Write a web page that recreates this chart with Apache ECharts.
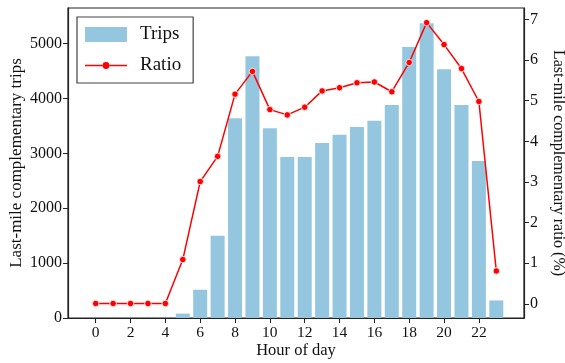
<!DOCTYPE html>
<html><head><meta charset="utf-8">
<script src="https://cdn.jsdelivr.net/npm/echarts@6/dist/echarts.min.js"></script>
<style>html,body{margin:0;padding:0;background:#fff}#c{width:565px;height:363px}</style>
</head><body><div id="c"></div>
<script>
var hours = [0,1,2,3,4,5,6,7,8,9,10,11,12,13,14,15,16,17,18,19,20,21,22,23];
var trips = [0,0,0,0,0,80,515,1500,3640,4770,3460,2935,2935,3190,3340,3480,3595,3880,4940,5370,4535,3880,2860,320];
var ratio = [0.01,0.01,0.01,0.01,0.01,1.09,3.01,3.63,5.16,5.72,4.78,4.65,4.84,5.24,5.32,5.44,5.46,5.22,5.94,6.92,6.38,5.79,4.98,0.81];
var xTicks = [0,2,4,6,8,10,12,14,16,18,20,22];
var leftTicks = [0,1000,2000,3000,4000,5000];
var rightTicks = [0,1,2,3,4,5,6,7];

var font = 'Liberation Serif';
var chart = echarts.init(document.getElementById('c'));
var axisCol = '#222';
var plain = function (v) { return String(v); };
var lineMarkerIcon = 'path://M0,6.75L17.5,6.75L17.5,8.25L0,8.25Z' +
  'M24.5,6.75L42,6.75L42,8.25L24.5,8.25Z' +
  'M17.6,7.5A3.4,3.4 0 1 1 24.4,7.5A3.4,3.4 0 1 1 17.6,7.5Z' +
  'M0,0L0.01,0L0.01,0.01Z M41.99,14.99L42,14.99L42,15Z';
chart.setOption({
  animation: false,
  textStyle: {fontFamily: font},
  grid: {left: 68, right: 41, top: 8, bottom: 45, show: true, borderColor: axisCol, borderWidth: 1.2,
         containLabel: false, outerBoundsMode: 'none'},
  legend: {
    left: 77, top: 17, orient: 'vertical',
    borderColor: '#444', borderWidth: 1.2, padding: [8, 12, 8, 8],
    itemWidth: 42, itemHeight: 15, itemGap: 12,
    textStyle: {fontFamily: font, fontSize: 19, color: '#111', padding: [0,0,0,8]},
    data: [{name: 'Trips', icon: 'rect'},
           {name: 'Ratio', icon: lineMarkerIcon, itemStyle: {color: '#ff0000', borderWidth: 0}}]
  },
  xAxis: {
    type: 'value', min: -1.59, max: 24.59,
    name: 'Hour of day', nameLocation: 'middle', nameGap: 24, nameMoveOverlap: false,
    nameTextStyle: {fontFamily: font, fontSize: 16.5, color: '#111'},
    axisLine: {onZero: false, lineStyle: {color: axisCol, width: 1.2}},
    axisTick: {show: true, length: 5, customValues: xTicks, lineStyle: {color: axisCol}},
    axisLabel: {customValues: xTicks, formatter: plain, fontFamily: font, fontSize: 15.5, color: '#111', margin: 7},
    splitLine: {show: false}
  },
  yAxis: [{
    type: 'value', min: 0, max: 5649,
    name: 'Last-mile complementary trips', nameLocation: 'middle', nameGap: 43, nameMoveOverlap: false,
    nameTextStyle: {fontFamily: font, fontSize: 17, color: '#111'},
    axisLine: {show: true, onZero: false, lineStyle: {color: axisCol, width: 1.2}},
    axisTick: {show: true, length: 5, customValues: leftTicks, lineStyle: {color: axisCol}},
    axisLabel: {customValues: leftTicks, formatter: plain, fontFamily: font, fontSize: 16, color: '#111', margin: 6},
    splitLine: {show: false}
  }, {
    type: 'value', min: -0.347, max: 7.28, position: 'right',
    name: 'Last-mile complementary ratio (%)', nameLocation: 'middle', nameGap: 26, nameMoveOverlap: false,
    nameRotate: -90,
    nameTextStyle: {fontFamily: font, fontSize: 16, color: '#111'},
    axisLine: {show: true, onZero: false, lineStyle: {color: axisCol, width: 1.2}},
    axisTick: {show: true, length: 5, customValues: rightTicks, lineStyle: {color: axisCol}},
    axisLabel: {customValues: rightTicks, formatter: plain, fontFamily: font, fontSize: 16, color: '#111', margin: 6},
    splitLine: {show: false}
  }],
  series: [{
    name: 'Trips', type: 'bar', yAxisIndex: 0, barWidth: 14,
    itemStyle: {color: '#94c7df'},
    data: hours.map(function(h, i){ return [h, trips[i]]; }),
    z: 1
  }, {
    name: 'Ratio', type: 'line', yAxisIndex: 1,
    symbol: 'circle', symbolSize: 6.5,
    lineStyle: {color: '#ff0000', width: 1.5},
    itemStyle: {color: '#ff0000', borderColor: '#fff', borderWidth: 0.8},
    data: hours.map(function(h, i){ return [h, ratio[i]]; }),
    z: 3
  }]
});
</script>
</body></html>
